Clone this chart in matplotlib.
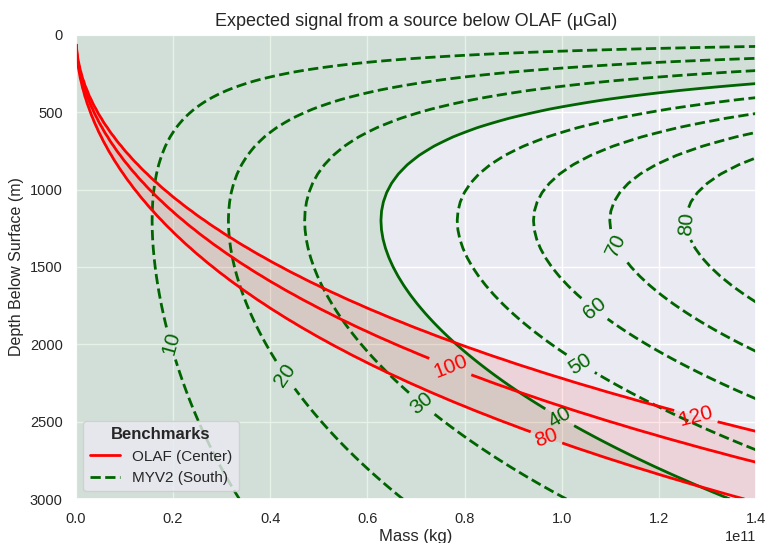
import numpy as np
import matplotlib.pyplot as plt
import seaborn as sns
from matplotlib.lines import Line2D

sns.set_theme(style="darkgrid")
plt.rcParams['font.family'] = ['Liberation Sans', 'DejaVu Sans']

# gravity constant and model geometry (m)
G = 6.674e-11
olaf_dist = 0.0      # source sits right below OLAF
myv2_dist = 1850.0   # horizontal distance source -> MYV2
ref_dist = 4000.0    # reference station distance

mass = np.linspace(0, 1.4e11, 301)
depth = np.linspace(0, 3000, 51)

olaf_levels = [80, 100, 120]
myv2_levels = [10, 20, 30, 40, 50, 60, 70, 80]
myv2_threshold = 40

# where the contour labels sit (mass, depth)
olaf_label_pos = [(0.97e11, 2590), (0.77e11, 2150), (1.28e11, 2420)]
myv2_label_pos = [(0.19e11, 2000), (0.43e11, 2200), (0.71e11, 2390), (1.0e11, 2450),
                  (1.04e11, 2120), (1.07e11, 1760), (1.11e11, 1360), (1.25e11, 1225)]


def point_mass(M, z, r):
    # vertical attraction of a point mass, in microGal
    with np.errstate(divide='ignore', invalid='ignore'):
        return G * M * z / (z**2 + r**2)**1.5 * 1e8


M, Z = np.meshgrid(mass, depth)
olaf = point_mass(M, Z, olaf_dist) - point_mass(M, Z, ref_dist)
myv2 = point_mass(M, Z, myv2_dist) - point_mass(M, Z, ref_dist)

fig, ax = plt.subplots(figsize=(7.66, 5.43), dpi=100)
fig.subplots_adjust(left=0.099, right=0.987, top=0.936, bottom=0.081)

ax.contourf(M, Z, myv2, levels=[-1, myv2_threshold], colors='green', alpha=0.1)
ax.contourf(M, Z, olaf, levels=[olaf_levels[0], olaf_levels[-1]], colors='red', alpha=0.1)

styles = ['solid' if lv == myv2_threshold else 'dashed' for lv in myv2_levels]
cs_m = ax.contour(M, Z, myv2, levels=myv2_levels, colors='darkgreen',
                  linestyles=styles, linewidths=2)
cs_o = ax.contour(M, Z, olaf, levels=olaf_levels, colors='red', linewidths=2)
ax.clabel(cs_m, fmt='%d', fontsize=15, manual=myv2_label_pos)
ax.clabel(cs_o, fmt='%d', fontsize=15, manual=olaf_label_pos)

ax.set_xlim(0, 1.4e11)
ax.set_ylim(3000, 0)
ax.set_xlabel("Mass (kg)", fontsize=12, labelpad=2)
ax.set_ylabel("Depth Below Surface (m)", fontsize=11.5)
ax.set_title("Expected signal from a source below OLAF (µGal)", fontsize=13)
ax.tick_params(labelsize=10.5)
ax.xaxis.get_offset_text().set_fontsize(10.5)

handles = [Line2D([], [], color='red', lw=2, label='OLAF (Center)'),
           Line2D([], [], color='darkgreen', lw=2, ls='--', label='MYV2 (South)')]
ax.legend(handles=handles, loc='lower left', title='Benchmarks', fontsize=11,
          title_fontproperties={'weight': 'bold', 'size': 12})

fig.savefig('out.png', dpi=100)
